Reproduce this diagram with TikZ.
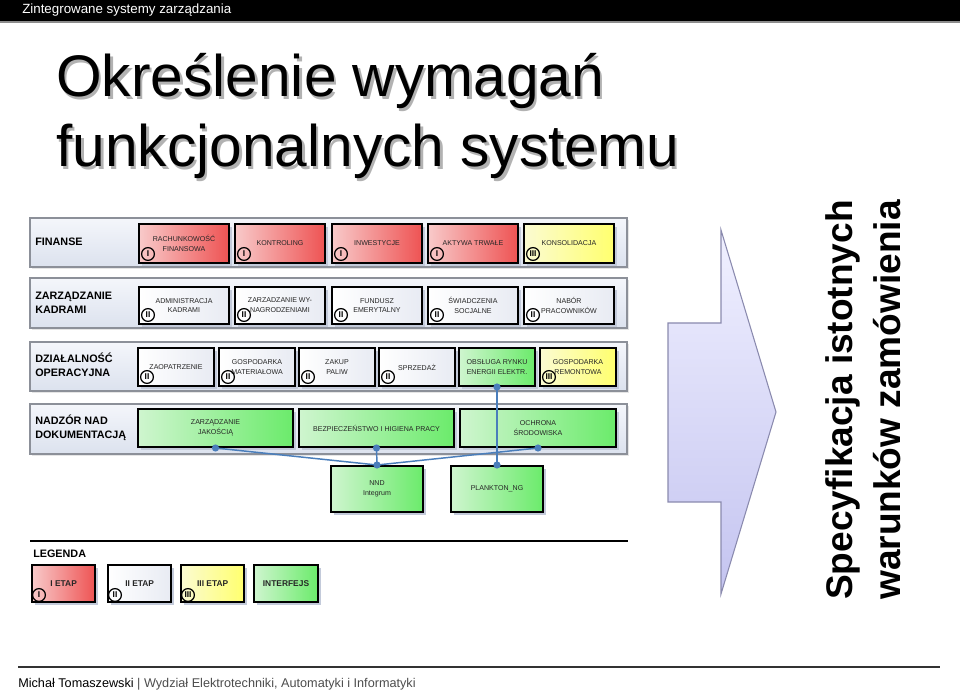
\documentclass[tikz,border=0pt]{standalone}
\usepackage{fontspec}
\setmainfont{Liberation Sans}
\usetikzlibrary{shadows,calc}
\definecolor{panelT}{HTML}{F4F6FB}
\definecolor{panelB}{HTML}{DCE2EE}
\definecolor{panelD}{HTML}{8C9099}
\definecolor{shadowc}{HTML}{C3CADA}
\definecolor{redL}{HTML}{F8CACA}
\definecolor{redR}{HTML}{EE5353}
\definecolor{yelL}{HTML}{FBFBD2}
\definecolor{yelR}{HTML}{FFFF6E}
\definecolor{grnL}{HTML}{CFF5CF}
\definecolor{grnR}{HTML}{6BEB6B}
\definecolor{whL}{HTML}{FFFFFF}
\definecolor{whR}{HTML}{E8EBF3}
\definecolor{connc}{HTML}{4A7EBB}
\definecolor{arrT}{HTML}{F0F0FF}
\definecolor{arrB}{HTML}{C4C4F0}
\definecolor{arrD}{HTML}{8A8AAE}
\newcommand\stbox[8]{%
  \node[box,#4,anchor=north west,minimum width=#5,minimum height=#6] (#1) at (#2,#3) {#7};
  \node[rnum] (#1n) at ($(#1.south west)+(10,-10)$) {#8};}
\newcommand\lgbox[6]{%
  \node[box,#4,anchor=north west,minimum width=47.5pt,minimum height=27.75pt,font=\bfseries\fontsize{6.3}{7}\selectfont] (#1) at (#2,#3) {#5};
  \node[rnum] (#1n) at ($(#1.south west)+(8,-8)$) {#6};}
\begin{document}
\begin{tikzpicture}[x=0.75pt,y=-0.75pt,
  panel/.style={draw=panelD, line width=0.8pt, top color=panelT, bottom color=panelB,
    drop shadow={shadow xshift=1.2pt, shadow yshift=-1.2pt, fill=black!20}},
  box/.style={draw=black, line width=1.5pt, inner sep=1pt, align=center,
    font=\fontsize{5.3}{7.4}\selectfont, text=black!85,
    drop shadow={shadow xshift=2.2pt, shadow yshift=-2.2pt, fill=shadowc, opacity=1}},
  red/.style={left color=redL, right color=redR},
  yel/.style={left color=yelL, right color=yelR},
  grn/.style={left color=grnL, right color=grnR},
  wht/.style={left color=whL, right color=whR},
  rnum/.style={circle, draw=black, line width=0.9pt, inner sep=0pt, minimum size=9.6pt,
    font=\bfseries\fontsize{6.3}{6.3}\selectfont},
  lab/.style={anchor=west, align=left, inner sep=0pt, font=\bfseries\fontsize{8.1}{10.5}\selectfont},
  conn/.style={draw=connc, line width=1.1pt},
  dot/.style={circle, fill=connc, inner sep=0pt, minimum size=5.4pt},
  titlet/.style={anchor=base west, inner sep=0pt, font=\fontsize{44}{50}\selectfont}
]
\useasboundingbox (0,0) rectangle (960,691);
% top bar
\fill[black] (0,0) rectangle (960,21);
\fill[black!45] (0,21) rectangle (960,23);
\node[anchor=base west, inner sep=0pt, text=white, font=\fontsize{10}{12}\selectfont] (hdr) at (22,13.5) {Zintegrowane systemy zarządzania};
% title
\node[titlet, text=black!30] (t1s) at (58.5,99.5) {Określenie wymagań};
\node[titlet, text=black!30] (t2s) at (58.5,169.5) {funkcjonalnych systemu};
\node[titlet] (t1) at (56,97) {Określenie wymagań};
\node[titlet] (t2) at (56,167) {funkcjonalnych systemu};
% panels
\path[panel] (30,218) rectangle (627,267);
\path[panel] (30,278) rectangle (627,328);
\path[panel] (30,342) rectangle (627,391);
\path[panel] (30,404) rectangle (627,454);
% row labels
\node[lab] (lfin) at (35,242) {FINANSE};
\node[lab] (lkad) at (35,303) {ZARZĄDZANIE\\KADRAMI};
\node[lab] (lope) at (35,365) {DZIAŁALNOŚĆ\\OPERACYJNA};
\node[lab] (ldok) at (35,428) {NADZÓR NAD\\DOKUMENTACJĄ};
% row 1
\stbox{ra}{138}{223}{red}{67.5pt}{29.25pt}{RACHUNKOWOŚĆ\\FINANSOWA}{I}
\stbox{rb}{234}{223}{red}{67.5pt}{29.25pt}{KONTROLING}{I}
\stbox{rc}{331}{223}{red}{67.5pt}{29.25pt}{INWESTYCJE}{I}
\stbox{rd}{427}{223}{red}{67.5pt}{29.25pt}{AKTYWA TRWAŁE}{I}
\stbox{re}{523}{223}{yel}{67.5pt}{29.25pt}{KONSOLIDACJA}{III}
% row 2
\stbox{ka}{138}{286}{wht}{67.5pt}{27.75pt}{ADMINISTRACJA\\KADRAMI}{II}
\stbox{kb}{234}{286}{wht}{67.5pt}{27.75pt}{ZARZADZANIE WY-\\NAGRODZENIAMI}{II}
\stbox{kc}{331}{286}{wht}{67.5pt}{27.75pt}{FUNDUSZ\\EMERYTALNY}{II}
\stbox{kd}{427}{286}{wht}{67.5pt}{27.75pt}{ŚWIADCZENIA\\SOCJALNE}{II}
\stbox{ke}{523}{286}{wht}{67.5pt}{27.75pt}{NABÓR\\PRACOWNIKÓW}{II}
% row 3
\stbox{oa}{137}{347}{wht}{57pt}{28.5pt}{ZAOPATRZENIE}{II}
\stbox{ob}{218}{347}{wht}{57pt}{28.5pt}{GOSPODARKA\\MATERIAŁOWA}{II}
\stbox{oc}{298}{347}{wht}{57pt}{28.5pt}{ZAKUP\\PALIW}{II}
\stbox{od}{378}{347}{wht}{57pt}{28.5pt}{SPRZEDAŻ}{II}
\node[box,grn,anchor=north west,minimum width=57pt,minimum height=28.5pt] (oe) at (458,347) {OBSŁUGA RYNKU\\ENERGII ELEKTR.};
\stbox{of}{539}{347}{yel}{57pt}{28.5pt}{GOSPODARKA\\REMONTOWA}{III}
% row 4
\node[box,grn,anchor=north west,minimum width=116.25pt,minimum height=28.5pt] (zj) at (137,408) {ZARZĄDZANIE\\JAKOŚCIĄ};
\node[box,grn,anchor=north west,minimum width=116.25pt,minimum height=28.5pt] (bhp) at (298,408) {BEZPIECZEŃSTWO I HIGIENA PRACY};
\node[box,grn,anchor=north west,minimum width=117pt,minimum height=28.5pt] (och) at (459,408) {OCHRONA\\ŚRODOWISKA};
% interfaces
\node[box,grn,anchor=north west,minimum width=69pt,minimum height=34.5pt] (nnd) at (330,465) {NND\\Integrum};
\node[box,grn,anchor=north west,minimum width=69pt,minimum height=34.5pt] (pl) at (450,465) {PLANKTON\_NG};
% connectors
\draw[conn] (zj.south) -- (nnd.north);
\draw[conn] (bhp.south) -- (nnd.north);
\draw[conn] (och.south) -- (nnd.north);
\draw[conn] (oe.south) -- (pl.north);
\node[dot] (d1) at (zj.south) {};
\node[dot] (d2) at (bhp.south) {};
\node[dot] (d3) at (och.south) {};
\node[dot] (d4) at (oe.south) {};
\node[dot] (d5) at (nnd.north) {};
\node[dot] (d6) at (pl.north) {};
% legend
\coordinate (lgl) at (30,541);
\coordinate (lgr) at (628,541);
\draw[black, line width=1.8pt] (lgl) -- (lgr);
\node[lab] (lleg) at (33,554) {LEGENDA};
\lgbox{la}{31}{564}{red}{I ETAP}{I}
\lgbox{lb}{107}{564}{wht}{II ETAP}{II}
\lgbox{lc}{180}{564}{yel}{III ETAP}{III}
\node[box,grn,anchor=north west,minimum width=48pt,minimum height=27.75pt,font=\bfseries\fontsize{6.3}{7}\selectfont] (ld) at (253,564) {INTERFEJS};
% arrow
\draw[draw=arrD, line width=0.8pt, top color=arrT, bottom color=arrB]
  (668,323) -- (721,323) -- (721,230) -- (776,412) -- (721,594) -- (721,502) -- (668,502) -- cycle;
\node[rotate=90, anchor=base, inner sep=0pt, font=\bfseries\fontsize{27.8}{30}\selectfont] (sp1) at (852,400) {Specyfikacja istotnych};
\node[rotate=90, anchor=base, inner sep=0pt, font=\bfseries\fontsize{27.8}{30}\selectfont] (sp2) at (900,400) {warunków zamówienia};
% footer
\coordinate (fl) at (18,667);
\coordinate (fr) at (940,667);
\draw[black!80, line width=1.3pt] (fl) -- (fr);
\node[anchor=base west, inner sep=0pt, font=\fontsize{9.5}{11}\selectfont] (ftr) at (18,687) {Michał Tomaszewski \textcolor{black!70}{| Wydział Elektrotechniki, Automatyki i Informatyki}};
\end{tikzpicture}
\end{document}
